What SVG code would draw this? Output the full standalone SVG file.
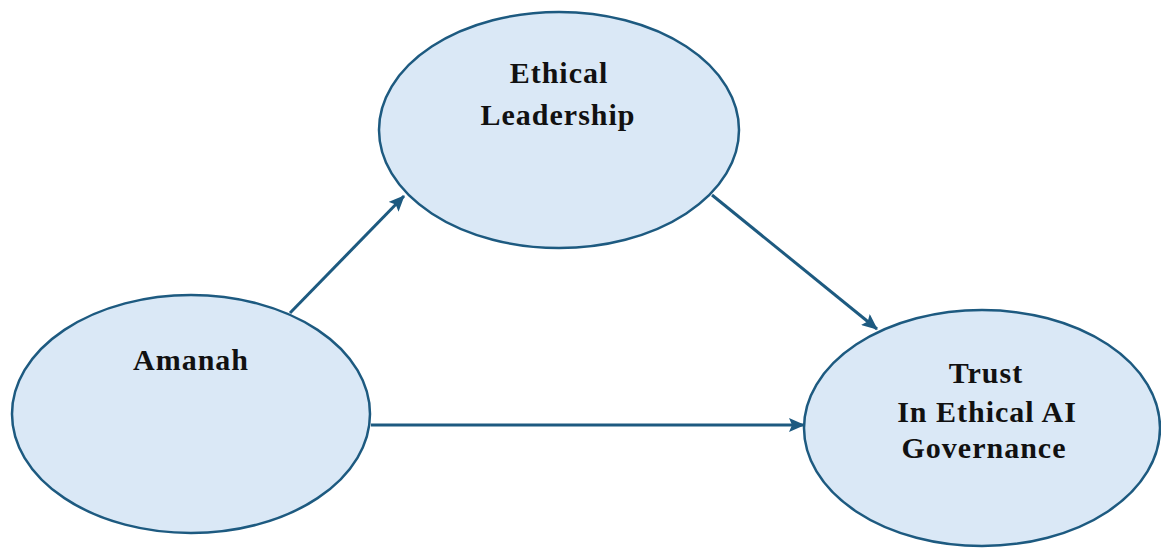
<svg xmlns="http://www.w3.org/2000/svg" width="1161" height="548" viewBox="0 0 1161 548">
  <style>
    .node ellipse { fill: #dae8f6; stroke: #1d5a80; stroke-width: 2.5; }
    .node text { font-family: "Liberation Serif", "Times New Roman", serif; font-weight: bold; font-size: 30px; fill: #111; text-anchor: middle; letter-spacing: 1px; }
    .edge { stroke: #1d5a80; stroke-width: 3; fill: none; }
  </style>
  <defs>
    <marker id="head" viewBox="0 0 16 14" refX="15" refY="7" markerWidth="16" markerHeight="14" orient="auto" markerUnits="userSpaceOnUse">
      <path d="M0,0 L16,7 L0,14 L3,7 Z" fill="#1d5a80"/>
    </marker>
  </defs>

  <g id="connectors">
    <line class="edge" x1="290" y1="313" x2="404" y2="196" marker-end="url(#head)"/>
    <line class="edge" x1="712" y1="195" x2="877" y2="329" marker-end="url(#head)"/>
    <line class="edge" x1="371" y1="425" x2="804" y2="425" marker-end="url(#head)"/>
  </g>

  <g id="node-leadership" class="node">
    <ellipse cx="559" cy="130" rx="180" ry="118"/>
    <text x="559" y="83">Ethical</text>
    <text x="558" y="125">Leadership</text>
  </g>

  <g id="node-amanah" class="node">
    <ellipse cx="191" cy="414" rx="179" ry="119"/>
    <text x="191" y="370">Amanah</text>
  </g>

  <g id="node-trust" class="node">
    <ellipse cx="982" cy="428" rx="178" ry="118"/>
    <text x="986" y="383">Trust</text>
    <text x="987" y="422">In Ethical AI</text>
    <text x="984" y="458">Governance</text>
  </g>
</svg>
